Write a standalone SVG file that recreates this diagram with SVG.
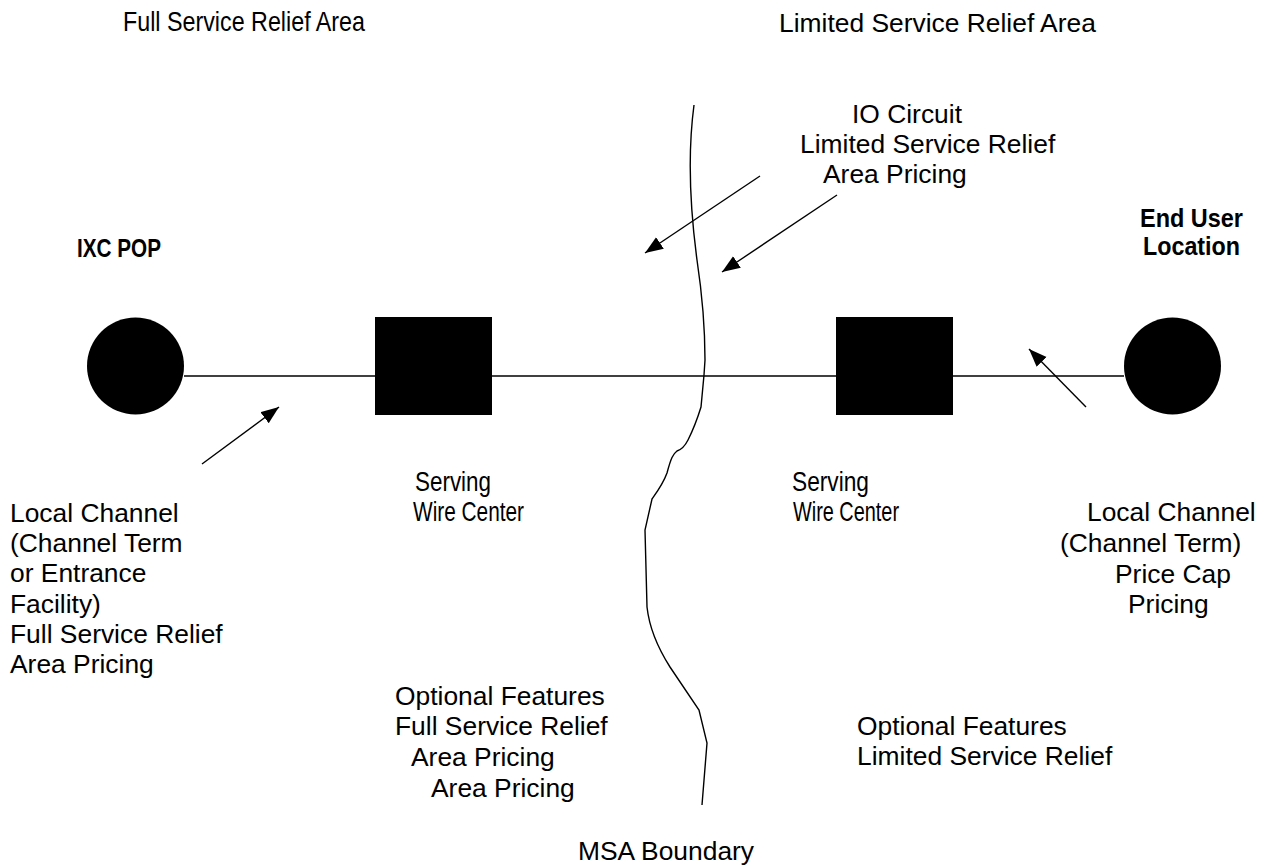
<svg xmlns="http://www.w3.org/2000/svg" width="1267" height="865" viewBox="0 0 1267 865">
<style>
text{font-family:"Liberation Sans",Arial,sans-serif;font-size:26.4px;fill:#000}
.b{font-weight:bold}
.c{font-size:27.5px}
.ln{stroke:#000;stroke-width:1.4;fill:none}
</style>
<defs>
<marker id="ah" markerUnits="userSpaceOnUse" markerWidth="20" markerHeight="16" refX="18" refY="7" orient="auto">
<path d="M0,0 L18,7 L0,14 Z" fill="#000"/>
</marker>
</defs>
<rect width="1267" height="865" fill="#fff"/>
<g id="connectors">
<line class="ln" x1="184" y1="376" x2="1124" y2="376"/>
<path id="msa-boundary" class="ln" d="M694,105 C688,150 689,200 697,260 C703,300 705,330 705,360 L704,375 L701,407 C697,420 692,432 688,440 C684,448 680,450 677,451 C673,454 671,458 667,473 C663,484 657,492 652,499 L645,530 L647,607 C649,625 656,645 670,667 L699,710 L707,743 L702,805"/>
<line class="ln" x1="202" y1="464" x2="279" y2="407" marker-end="url(#ah)"/>
<line class="ln" x1="760" y1="176" x2="645" y2="253" marker-end="url(#ah)"/>
<line class="ln" x1="837" y1="195" x2="722" y2="272" marker-end="url(#ah)"/>
<line class="ln" x1="1086" y1="407" x2="1029" y2="349" marker-end="url(#ah)"/>
</g>
<g id="ixc-pop">
<circle cx="135.5" cy="366" r="48.5" fill="#000"/>
<text class="b" x="77" y="257" textLength="84" lengthAdjust="spacingAndGlyphs">IXC POP</text>
</g>
<g id="swc-left">
<rect x="375" y="317" width="117" height="98" fill="#000"/>
<text class="c" x="415" y="491" textLength="76" lengthAdjust="spacingAndGlyphs">Serving</text>
<text class="c" x="413" y="521" textLength="111" lengthAdjust="spacingAndGlyphs">Wire Center</text>
</g>
<g id="swc-right">
<rect x="836" y="317" width="117" height="98" fill="#000"/>
<text class="c" x="792" y="491" textLength="77" lengthAdjust="spacingAndGlyphs">Serving</text>
<text class="c" x="793" y="521" textLength="106" lengthAdjust="spacingAndGlyphs">Wire Center</text>
</g>
<g id="end-user">
<circle cx="1172.5" cy="366" r="48.5" fill="#000"/>
<text class="b" x="1140" y="227" textLength="103" lengthAdjust="spacingAndGlyphs">End User</text>
<text class="b" x="1143" y="255" textLength="97" lengthAdjust="spacingAndGlyphs">Location</text>
</g>
<g id="labels">
<text class="c" x="123" y="31" textLength="242" lengthAdjust="spacingAndGlyphs">Full Service Relief Area</text>
<text x="779" y="32">Limited Service Relief Area</text>
<text x="852" y="123">IO Circuit</text>
<text x="800" y="153">Limited Service Relief</text>
<text x="823" y="183">Area Pricing</text>
<text x="10" y="522">Local Channel</text>
<text x="10" y="552">(Channel Term</text>
<text x="10" y="582">or Entrance</text>
<text x="10" y="613">Facility)</text>
<text x="10" y="643">Full Service Relief</text>
<text x="10" y="673">Area Pricing</text>
<text x="1087" y="521">Local Channel</text>
<text x="1060" y="552">(Channel Term)</text>
<text x="1115" y="583">Price Cap</text>
<text x="1128" y="613">Pricing</text>
<text x="395" y="705">Optional Features</text>
<text x="395" y="735">Full Service Relief</text>
<text x="411" y="766">Area Pricing</text>
<text x="431" y="797">Area Pricing</text>
<text x="857" y="735">Optional Features</text>
<text x="857" y="765">Limited Service Relief</text>
<text x="578" y="860">MSA Boundary</text>
</g>
</svg>
